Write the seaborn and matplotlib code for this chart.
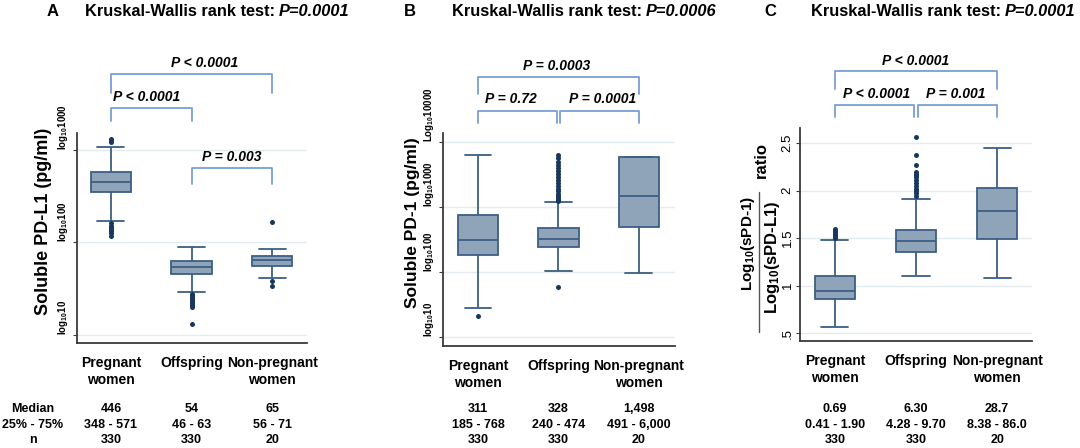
import numpy as np
import pandas as pd
import matplotlib
matplotlib.use("Agg")
import matplotlib.pyplot as plt
import matplotlib.transforms as mtransforms
from matplotlib.lines import Line2D
from matplotlib.ticker import NullLocator
import seaborn as sns

# ---------------- data ----------------
groups = ["Pregnant\nwomen", "Offspring", "Non-pregnant\nwomen"]

# five-number box summaries: lower whisker, Q1, median, Q3, upper whisker
# Panel A: soluble PD-L1 (pg/ml)
a_pregnant = [170, 348, 446, 571, 1080]
a_offspring = [29, 46, 54, 63, 88]
a_nonpreg = [41, 56, 65, 71, 84]
a_out_pregnant = [1200, 1260, 1320, 160, 152, 145, 139, 133, 127, 117]
a_out_offspring = [28, 27, 26, 25, 24, 23, 22, 21, 20, 13]
a_out_nonpreg = [164, 38.5, 33.5]

# Panel B: soluble PD-1 (pg/ml)
b_pregnant = [28, 185, 311, 768, 6300]
b_offspring = [104, 240, 328, 474, 1190]
b_nonpreg = [96, 491, 1498, 6000, 6000]
b_out_pregnant = [21]
b_out_offspring = [59, 1240, 1300, 1380, 1480, 1600, 1750, 1900, 2100, 2350,
                   2600, 2900, 3200, 3600, 4000, 4500, 5000, 5600, 6300]
b_out_nonpreg = []

# Panel C: log10(sPD-1)/log10(sPD-L1) ratio
c_pregnant = [0.56, 0.863, 0.947, 1.105, 1.48]
c_offspring = [1.105, 1.353, 1.47, 1.585, 1.915]
c_nonpreg = [1.08, 1.49, 1.79, 2.03, 2.45]
c_out_pregnant = [1.50, 1.52, 1.54, 1.56, 1.58, 1.60]
c_out_offspring = [1.94, 1.97, 2.00, 2.02, 2.05, 2.08, 2.11, 2.14, 2.16,
                   2.18, 2.20, 2.27, 2.38, 2.56]
c_out_nonpreg = []

a_ticks = [10, 100, 1000]
a_ticklabels = [r"log$_{10}$10", r"log$_{10}$100", r"log$_{10}$1000"]
b_ticks = [10, 100, 1000, 10000]
b_ticklabels = [r"log$_{10}$10", r"log$_{10}$100", r"log$_{10}$1000", r"Log$_{10}$10000"]
c_ticks = [0.5, 1, 1.5, 2, 2.5]
c_ticklabels = [".5", "1", "1.5", "2", "2.5"]

titles = ["A", "B", "C"]
kw_p = ["P=0.0001", "P=0.0006", "P=0.0001"]

row_labels = ["Median", "25% - 75%", "n"]
a_median = ["446", "54", "65"]
a_iqr = ["348 - 571", "46 - 63", "56 - 71"]
b_median = ["311", "328", "1,498"]
b_iqr = ["185 - 768", "240 - 474", "491 - 6,000"]
c_median = ["0.69", "6.30", "28.7"]
c_iqr = ["0.41 - 1.90", "4.28 - 9.70", "8.38 - 86.0"]
n_counts = ["330", "330", "20"]

# comparisons: (x0, x1, label)
a_comp = [(0, 2, "P < 0.0001"), (0, 1, "P < 0.0001"), (1, 2, "P = 0.003")]
b_comp = [(0, 2, "P = 0.0003"), (0, 0.98, "P = 0.72"), (1.02, 2, "P = 0.0001")]
c_comp = [(0, 2, "P < 0.0001"), (0, 0.98, "P < 0.0001"), (1.02, 2, "P = 0.001")]

# ---------------- style ----------------
sns.set_theme(style="white")
plt.rcParams["font.family"] = ["Liberation Sans", "DejaVu Sans"]
plt.rcParams["mathtext.default"] = "regular"
plt.rcParams["text.color"] = "black"
plt.rcParams["xtick.labelcolor"] = "black"
plt.rcParams["ytick.labelcolor"] = "black"

NARROW = ["Liberation Sans Narrow", "Liberation Sans", "DejaVu Sans"]

FILL = "#8fa3b9"
EDGE = "#3c5f84"
DOT = "#17375e"
BRK = "#7a9ed6"
GRID = "#e3ebee"
SPINE = "#3a3a3a"

W, H = 1080, 448
fig = plt.figure(figsize=(W / 100, H / 100), dpi=100)


def fx(px):
    return px / W


def fy(py):
    return 1 - py / H


def make_ax(left, top, right, bottom):
    return fig.add_axes([fx(left), fy(bottom), fx(right - left), (bottom - top) / H])


def draw_panel(ax, boxes, outs, log):
    rows = []
    for g, vals in zip(groups, boxes):
        for v in vals:
            rows.append({"group": g, "value": v})
    df = pd.DataFrame(rows)
    orow = []
    for g, vals in zip(groups, outs):
        for v in vals:
            orow.append({"group": g, "value": v})
    dfo = pd.DataFrame(orow)
    sns.boxplot(data=df, x="group", y="value", order=groups, width=0.5,
                whis=(0, 100), color=FILL, linecolor=EDGE, linewidth=1.3,
                saturation=1, fliersize=0, log_scale=log, ax=ax)
    sns.stripplot(data=dfo, x="group", y="value", order=groups, jitter=False,
                  color=DOT, size=3.6, linewidth=0, log_scale=log, ax=ax, zorder=5)
    # widen whisker caps a little
    for ln in ax.lines:
        xd = np.asarray(ln.get_xdata(), dtype=float)
        yd = np.asarray(ln.get_ydata(), dtype=float)
        if len(xd) == 2 and yd[0] == yd[1] and abs(xd[1] - xd[0]) < 0.4:
            c = xd.mean()
            half = abs(xd[1] - xd[0]) / 2 * 1.34
            ln.set_xdata([c - half, c + half])
    ax.set_xlabel("")
    ax.set_ylabel("")
    ax.grid(axis="y", color=GRID, lw=1.0)
    ax.set_axisbelow(True)
    for s in ["top", "right"]:
        ax.spines[s].set_visible(False)
    for s in ["left", "bottom"]:
        ax.spines[s].set_color(SPINE)
        ax.spines[s].set_linewidth(1.3)
    ax.tick_params(axis="x", length=0, pad=9, labelsize=10)
    for lbl in ax.get_xticklabels():
        lbl.set_fontweight("bold")
        lbl.set_linespacing(1.3)
    ax.tick_params(axis="y", length=3, width=0.8, color=SPINE, left=True)


def set_yticks(ax, ticks, labels, size, weight, va, pad, family=None):
    ax.set_yticks(ticks)
    ax.set_yticklabels(labels)
    ax.yaxis.set_minor_locator(NullLocator())
    ax.tick_params(axis="y", pad=pad, labelsize=size)
    for lbl in ax.get_yticklabels():
        lbl.set_rotation(90)
        lbl.set_va(va)
        lbl.set_ha("right")
        lbl.set_fontweight(weight)
        if family:
            lbl.set_family(family)


def brackets(ax, comps, rows_y, text_x):
    trans = mtransforms.blended_transform_factory(ax.transData, ax.transAxes)
    for (x0, x1, lab), (ytop, yleg, ytxt), tx in zip(comps, rows_y, text_x):
        ax.plot([x0, x0, x1, x1], [yleg, ytop, ytop, yleg], transform=trans,
                color=BRK, lw=1.3, clip_on=False)
        ax.text(tx, ytxt, lab, transform=trans, ha="center", va="center",
                fontsize=10, fontweight="bold", fontstyle="italic", color="black")


def stats_rows(ax, cols):
    trans = mtransforms.blended_transform_factory(ax.transData, fig.transFigure)
    for vals, py in zip(cols, [409, 425, 440]):
        for i, v in enumerate(vals):
            ax.text(i, fy(py), v, transform=trans, ha="center", va="center",
                    fontsize=9, fontweight="bold")


# ---------------- panel A ----------------
axA = make_ax(77, 133, 307, 343)
draw_panel(axA, [a_pregnant, a_offspring, a_nonpreg],
           [a_out_pregnant, a_out_offspring, a_out_nonpreg], True)
axA.set_ylim(8.2, 1514)
axA.set_xlim(-0.42, 2.43)
set_yticks(axA, a_ticks, a_ticklabels, 7, "bold", "bottom", 2, NARROW)
brackets(axA, a_comp,
         [(1.281, 1.190, 1.333), (1.119, 1.057, 1.171), (0.833, 0.757, 0.886)],
         [1.16, 0.44, 1.5])
stats_rows(axA, [a_median, a_iqr, n_counts])
fig.text(fx(44), fy(221), "Soluble PD-L1 (pg/ml)", rotation=90, ha="center",
         va="center", fontsize=13, fontweight="bold")
for lab, py in zip(row_labels, [409, 425, 440]):
    fig.text(fx(33), fy(py), lab, ha="center", va="center", fontsize=9,
             fontweight="bold")

# ---------------- panel B ----------------
axB = make_ax(443, 133, 675, 346)
draw_panel(axB, [b_pregnant, b_offspring, b_nonpreg],
           [b_out_pregnant, b_out_offspring, b_out_nonpreg], True)
axB.set_ylim(7.3, 13800)
axB.set_xlim(-0.435, 2.45)
set_yticks(axB, b_ticks, b_ticklabels, 7, "bold", "bottom", 2, NARROW)
brackets(axB, b_comp,
         [(1.263, 1.183, 1.315), (1.103, 1.047, 1.160), (1.103, 1.047, 1.160)],
         [0.98, 0.41, 1.55])
stats_rows(axB, [b_median, b_iqr, n_counts])
fig.text(fx(413), fy(223), "Soluble PD-1 (pg/ml)", rotation=90, ha="center",
         va="center", fontsize=12.5, fontweight="bold")

# ---------------- panel C ----------------
axC = make_ax(800, 128, 1032, 341)
draw_panel(axC, [c_pregnant, c_offspring, c_nonpreg],
           [c_out_pregnant, c_out_offspring, c_out_nonpreg], False)
axC.set_ylim(0.416, 2.66)
axC.set_xlim(-0.43, 2.43)
set_yticks(axC, c_ticks, c_ticklabels, 9.5, "normal", "center", 1.5)
brackets(axC, c_comp,
         [(1.268, 1.183, 1.315), (1.108, 1.052, 1.160), (1.108, 1.052, 1.160)],
         [1.0, 0.51, 1.49])
stats_rows(axC, [c_median, c_iqr, n_counts])
fig.text(fx(761), fy(160), "ratio", rotation=90, ha="center", va="center",
         fontsize=12, fontweight="bold")
fig.text(fx(748), fy(243), r"Log$_{10}$(sPD-1)", rotation=90, ha="center",
         va="center", fontsize=11, fontweight="bold")
fig.add_artist(Line2D([fx(759), fx(759)], [fy(192), fy(332)], color="#555555", lw=1.0))
fig.text(fx(772), fy(257), r"Log$_{10}$(sPD-L1)", rotation=90, ha="center",
         va="center", fontsize=12, fontweight="bold")

# ---------------- titles ----------------
renderer = fig.canvas.get_renderer()
for letter, lx, tx, p in zip(titles, [53, 410, 770], [85, 452, 811], kw_p):
    fig.text(fx(lx), fy(11), letter, ha="center", va="center", fontsize=12,
             fontweight="bold")
    t = fig.text(fx(tx), fy(11), "Kruskal-Wallis rank test:", ha="left",
                 va="center", fontsize=11.8, fontweight="bold")
    bb = t.get_window_extent(renderer)
    fig.text((bb.x1 + 4) / W, fy(11), p, ha="left", va="center", fontsize=11.8,
             fontweight="bold", fontstyle="italic")

fig.savefig("out.png", dpi=100)
